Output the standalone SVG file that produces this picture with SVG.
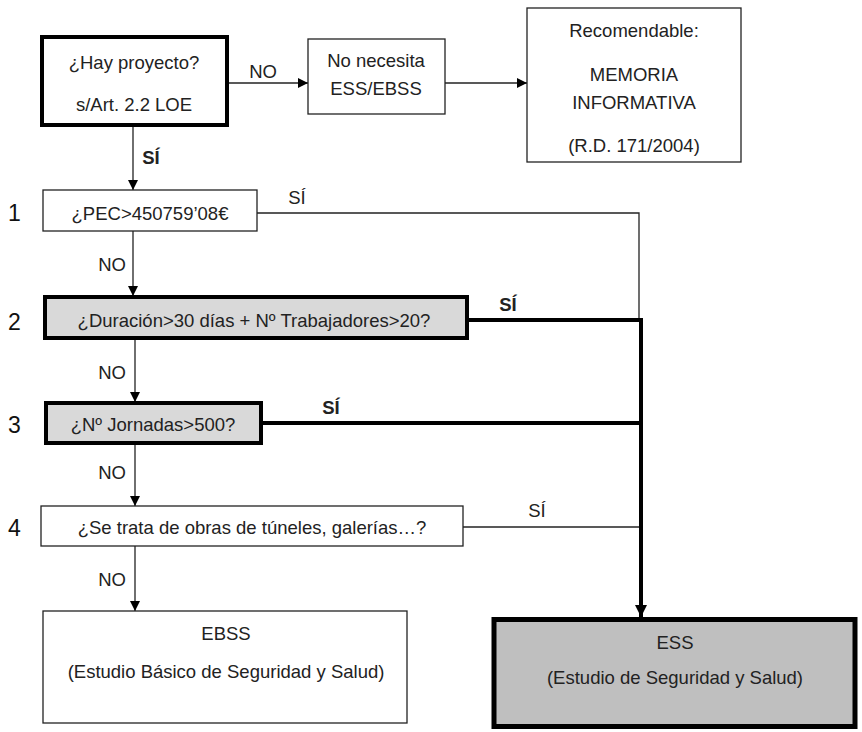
<svg xmlns="http://www.w3.org/2000/svg" width="862" height="732" viewBox="0 0 862 732">
<defs>
<style>
text{font-family:"Liberation Sans",Arial,sans-serif;font-size:18.5px;fill:#222;text-anchor:middle;dominant-baseline:central}
.b{font-weight:bold}
.num{font-size:23px;text-anchor:start;fill:#111}
.thin{fill:none;stroke:#222;stroke-width:1.3}
.thick{fill:none;stroke:#000;stroke-width:4}
</style>
<marker id="ah" viewBox="0 0 10 10" refX="10" refY="5" markerWidth="10" markerHeight="10" markerUnits="userSpaceOnUse" orient="auto"><path d="M0,0 L10,5 L0,10 z" fill="#000"/></marker>
<marker id="ahb" viewBox="0 0 10 10" refX="10" refY="5" markerWidth="12" markerHeight="12" markerUnits="userSpaceOnUse" orient="auto"><path d="M0,0 L10,5 L0,10 z" fill="#000"/></marker>
</defs>
<rect width="862" height="732" fill="#fff"/>
<g id="connectors">
<line class="thin" x1="227" y1="83" x2="308" y2="83" marker-end="url(#ah)"/>
<text x="263" y="71">NO</text>
<line class="thin" x1="445" y1="83" x2="527" y2="83" marker-end="url(#ah)"/>
<line class="thin" x1="133" y1="127" x2="133" y2="190" marker-end="url(#ah)"/>
<text class="b" x="151" y="157">SÍ</text>
<polyline class="thin" points="257,213 639,213 639,320"/>
<text x="297" y="197">SÍ</text>
<line class="thin" x1="133" y1="231" x2="133" y2="296" marker-end="url(#ah)"/>
<text x="112" y="264">NO</text>
<polyline class="thick" points="468,320 641,320"/>
<text class="b" x="508" y="304">SÍ</text>
<line class="thin" x1="135" y1="338" x2="135" y2="402" marker-end="url(#ah)"/>
<text x="112" y="372">NO</text>
<line class="thick" x1="261" y1="423" x2="641" y2="423"/>
<text class="b" x="331" y="407">SÍ</text>
<line class="thin" x1="135" y1="443" x2="135" y2="506" marker-end="url(#ah)"/>
<text x="112" y="472">NO</text>
<line class="thin" x1="463" y1="527" x2="641" y2="527"/>
<text x="537" y="510">SÍ</text>
<line class="thin" x1="135" y1="546" x2="135" y2="611" marker-end="url(#ah)"/>
<text x="112" y="579">NO</text>
<line class="thick" x1="641" y1="318" x2="641" y2="617" marker-end="url(#ahb)"/>
</g>
<g id="n_proyecto">
<rect x="42" y="37" width="185" height="88" fill="#fff" stroke="#000" stroke-width="4"/>
<text x="134" y="62">¿Hay proyecto?</text>
<text x="134" y="104">s/Art. 2.2 LOE</text>
</g>
<g id="n_nonecesita">
<rect x="308" y="39" width="137" height="75" fill="#fff" stroke="#222" stroke-width="1.3"/>
<text x="376" y="60">No necesita</text>
<text x="376" y="88">ESS/EBSS</text>
</g>
<g id="n_memoria">
<rect x="527" y="8" width="214" height="154" fill="#fff" stroke="#222" stroke-width="1.3"/>
<text x="634" y="30">Recomendable:</text>
<text x="634" y="74">MEMORIA</text>
<text x="634" y="102">INFORMATIVA</text>
<text x="634" y="145">(R.D. 171/2004)</text>
</g>
<g id="n1">
<text class="num" x="8" y="213">1</text>
<rect x="43" y="190" width="214" height="41" fill="#fff" stroke="#222" stroke-width="1.3"/>
<text x="150" y="213">¿PEC&gt;450759’08€</text>
</g>
<g id="n2">
<text class="num" x="8" y="322">2</text>
<rect x="45" y="297" width="422" height="41" fill="#d9d9d9" stroke="#000" stroke-width="4"/>
<text x="254" y="320">¿Duración&gt;30 días + Nº Trabajadores&gt;20?</text>
</g>
<g id="n3">
<text class="num" x="8" y="425">3</text>
<rect x="46" y="403" width="215" height="40" fill="#d9d9d9" stroke="#000" stroke-width="4"/>
<text x="153" y="424">¿Nº Jornadas&gt;500?</text>
</g>
<g id="n4">
<text class="num" x="8" y="528">4</text>
<rect x="41" y="506" width="422" height="40" fill="#fff" stroke="#222" stroke-width="1.3"/>
<text x="252" y="527">¿Se trata de obras de túneles, galerías…?</text>
</g>
<g id="n_ebss">
<rect x="43" y="611" width="364" height="112" fill="#fff" stroke="#222" stroke-width="1.3"/>
<text x="226" y="633">EBSS</text>
<text x="226" y="671">(Estudio Básico de Seguridad y Salud)</text>
</g>
<g id="n_ess">
<rect x="494" y="619.5" width="361" height="107" fill="#bfbfbf" stroke="#000" stroke-width="5"/>
<text x="675" y="642">ESS</text>
<text x="675" y="677">(Estudio de Seguridad y Salud)</text>
</g>
</svg>
